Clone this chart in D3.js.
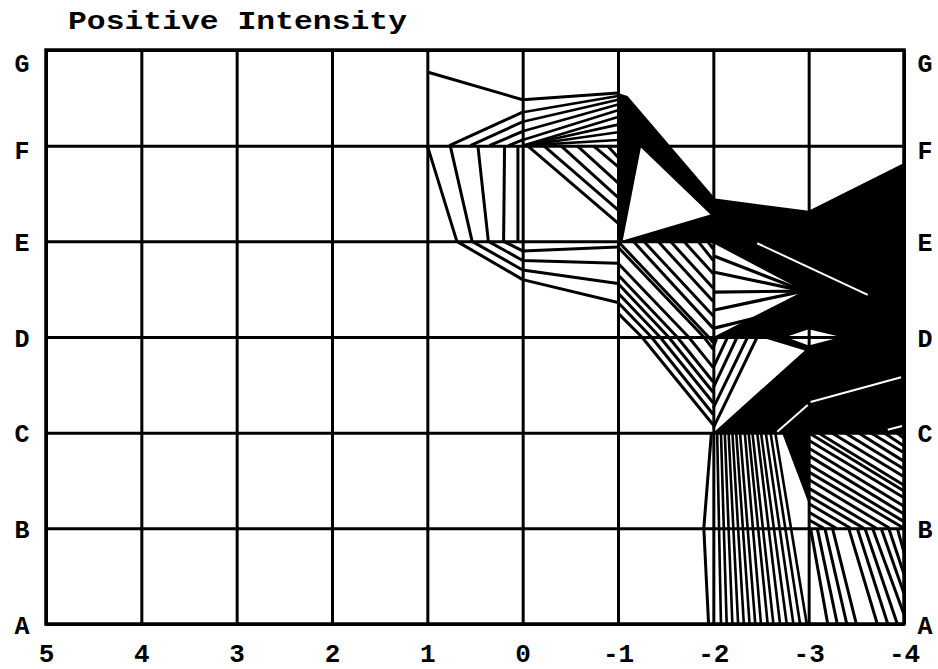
<!DOCTYPE html>
<html><head><meta charset="utf-8">
<script src="https://cdn.jsdelivr.net/npm/d3@7"></script>
<style>
html,body{margin:0;padding:0;background:#fff;}
svg{display:block;}
</style></head>
<body>
<svg id="chart" width="938" height="669"></svg>
<script>
// ---------- data ----------
const title = "Positive Intensity";
const xTicks = [5, 4, 3, 2, 1, 0, -1, -2, -3, -4];
const yCats = ["A", "B", "C", "D", "E", "F", "G"];
const yTicks = [0, 1, 2, 3, 4, 5, 6];

// trajectories (x value, category index A=0 ... G=6)
const topTrace = [[1, 5.77], [0, 5.48], [-1, 5.55]];
const upperFanLeft = [
  [[0.77, 5], [0, 5.35]], [[0.55, 5], [0, 5.25]], [[0.35, 5], [0, 5.15]], [[0.15, 5], [0, 5.06]]
];
const upperFanRight = [
  [[0, 5.35], [-1, 5.52]], [[0, 5.25], [-1, 5.48]], [[0, 5.15], [-1, 5.43]], [[0, 5.06], [-1, 5.37]],
  [[0, 5], [-1, 5.3]], [[0, 5], [-1, 5.22]], [[0, 5], [-1, 5.14]], [[0, 5], [-1, 5.06]]
];
const hatchFE = [
  [[-0.05, 5], [-1, 4.19]], [[-0.22, 5], [-1, 4.33]], [[-0.4, 5], [-1, 4.46]],
  [[-0.57, 5], [-1, 4.61]], [[-0.74, 5], [-1, 4.78]], [[-0.89, 5], [-1, 4.88]]
];
const lowerTraces = [
  [[1.0, 5.0], [0.69, 4.0], [0, 3.6], [-1, 3.36]],
  [[0.76, 5.0], [0.53, 4.0], [0, 3.7], [-1, 3.56]],
  [[0.47, 5.0], [0.36, 4.0], [0, 3.8], [-1, 3.77]],
  [[0.19, 5.0], [0.2, 4.0], [0, 3.9], [-1, 3.94]],
  [[0.05, 5.0], [0.05, 4.0]]
];
const hatchED = [
  [[-1.16, 4], [-2, 3.09]], [[-1.27, 4], [-2, 3.22]], [[-1.42, 4], [-2, 3.37]], [[-1.55, 4], [-2, 3.51]],
  [[-1.69, 4], [-2, 3.66]], [[-1.84, 4], [-2, 3.8]], [[-1.94, 4], [-2, 3.92]]
];
const hatchEDC = [
  [[-1, 4.0], [-1.95, 3.0], [-2, 2.94]],
  [[-1, 3.94], [-1.9, 3.0], [-2, 2.87]],
  [[-1, 3.77], [-1.74, 3.0], [-2, 2.68]],
  [[-1, 3.65], [-1.62, 3.0], [-2, 2.53]],
  [[-1, 3.56], [-1.53, 3.0], [-2, 2.42]],
  [[-1, 3.46], [-1.44, 3.0], [-2, 2.31]],
  [[-1, 3.36], [-1.35, 3.0], [-2, 2.19]],
  [[-1, 3.25], [-1.25, 3.0], [-2, 2.08]]
];
const chevronRight = [
  [[-2.04, 3.0], [-2, 2.89]], [[-2.15, 3.0], [-2, 2.68]], [[-2.25, 3.0], [-2, 2.47]],
  [[-2.36, 3.0], [-2, 2.26]], [[-2.46, 3.0], [-2, 2.05]]
];
const fanLines = [
  [[-2, 3.85], [-2.95, 3.48]], [[-2, 3.68], [-2.95, 3.48]], [[-2, 3.47], [-2.95, 3.48]],
  [[-2, 3.28], [-2.95, 3.48]], [[-2, 3.09], [-2.85, 3.3]]
];
const lowFanTop = [-2.04, -2.08, -2.12, -2.16, -2.2, -2.24, -2.28, -2.33, -2.37, -2.41, -2.46, -2.5, -2.55, -2.6, -2.65];
const lowFanBottom = [-2.08, -2.14, -2.2, -2.26, -2.32, -2.38, -2.44, -2.5, -2.57, -2.63, -2.7, -2.77, -2.84, -2.91, -2.98];
const lowFanEdge = [[-1.98, 2], [-1.9, 1], [-1.95, 0]];
const hatchCB = [
  [[-3, 1.92], [-4, 1.32]], [[-3, 1.84], [-4, 1.23]], [[-3, 1.76], [-4, 1.15]], [[-3, 1.67], [-4, 1.07]],
  [[-3, 1.59], [-4, 1.0]], [[-3, 1.51], [-3.85, 1]], [[-3, 1.42], [-3.71, 1]], [[-3, 1.34], [-3.58, 1]],
  [[-3, 1.26], [-3.44, 1]], [[-3, 1.17], [-3.29, 1]], [[-3, 1.09], [-3.16, 1]],
  [[-3, 2], [-4, 1.39]],
  [[-3.1, 2], [-4, 1.45]], [[-3.24, 2], [-4, 1.54]], [[-3.38, 2], [-4, 1.62]], [[-3.52, 2], [-4, 1.7]],
  [[-3.65, 2], [-4, 1.79]], [[-3.79, 2], [-4, 1.86]], [[-3.92, 2], [-4, 1.94]]
];
const hatchBA = [
  [[-3.02, 1], [-3.2, 0]], [[-3.09, 1], [-3.3, 0]], [[-3.17, 1], [-3.4, 0]], [[-3.25, 1], [-3.5, 0]],
  [[-3.42, 1], [-3.72, 0]], [[-3.51, 1], [-3.83, 0]], [[-3.59, 1], [-3.93, 0]], [[-3.67, 1], [-4, 0.1]],
  [[-3.76, 1], [-4, 0.32]], [[-3.84, 1], [-4, 0.52]], [[-3.93, 1], [-4, 0.75]]
];
// dense (solid) areas: outer ring followed by holes
const denseWedge = [
  [[-1, 5.55], [-1.1, 5.52], [-2, 4.47], [-2, 4.0], [-1, 4.0]],
  [[-1.24, 4.98], [-1.97, 4.28], [-1.05, 4.01]]
];
const denseMass = [
  [[-2, 4.45], [-3, 4.32], [-4, 4.82], [-4, 2.0], [-2, 2.0]],
  [[-2, 3.98], [-2.95, 3.48], [-2, 3.0]],
  [[-2, 3.0], [-2.49, 3.0], [-2.96, 2.86], [-2, 2.0]],
  [[-2.76, 3.0], [-3.0, 3.08], [-3.34, 3.0], [-3.0, 2.91]]
];
const denseLow = [
  [[-2.72, 2.0], [-3.0, 2.0], [-3.0, 1.26]]
];
const gapLines = [
  [[-2.46, 3.98], [-3.62, 3.44]], [[-3.02, 2.32], [-3.97, 2.58]],
  [[-2.67, 2.01], [-2.99, 2.29]], [[-3.83, 2.03], [-3.98, 2.07]]
];

// ---------- chart ----------
const svg = d3.select("#chart");
const L = 46, R = 904, T = 50, B = 624;
const x = d3.scaleLinear().domain([5, -4]).range([L, R]);
const y = d3.scaleLinear().domain([0, 6]).range([B, T]);
const line = d3.line().x(d => x(d[0])).y(d => y(d[1]));
const labelFont = "'Liberation Mono', 'Courier New', monospace";

// grid via axes
const gx = svg.append("g").attr("transform", `translate(0,${B})`)
  .call(d3.axisBottom(x).tickValues(xTicks).tickSize(-(B - T)).tickFormat(d => String(d)));
gx.select(".domain").remove();
gx.selectAll("line").attr("stroke", "#000").attr("stroke-width", 3);
gx.selectAll("text").attr("y", 0).attr("dy", 38)
  .attr("font-family", labelFont).attr("font-weight", "bold").attr("font-size", 26).attr("fill", "#000");

const gy = svg.append("g").attr("transform", `translate(${L},0)`)
  .call(d3.axisLeft(y).tickValues(yTicks).tickSize(-(R - L)).tickFormat(d => yCats[d]));
gy.select(".domain").remove();
gy.selectAll("line").attr("stroke", "#000").attr("stroke-width", 3);
gy.selectAll("text").attr("x", -24).attr("text-anchor", "middle").attr("dy", "0.36em")
  .attr("y", d => d === 6 ? 12 : (d === 5 ? 4 : 0))
  .attr("font-family", labelFont).attr("font-weight", "bold").attr("font-size", 25).attr("fill", "#000");

const gr = svg.append("g").attr("transform", `translate(${R},0)`)
  .call(d3.axisRight(y).tickValues(yTicks).tickSize(0).tickFormat(d => yCats[d]));
gr.select(".domain").remove();
gr.selectAll("text").attr("x", 21).attr("text-anchor", "middle").attr("dy", "0.36em")
  .attr("y", d => d === 6 ? 12 : (d === 5 ? 4 : 0))
  .attr("font-family", labelFont).attr("font-weight", "bold").attr("font-size", 25).attr("fill", "#000");

// dense areas
[denseWedge, denseMass, denseLow].forEach(rings => {
  svg.append("path")
    .attr("d", rings.map(r => line(r) + "Z").join(""))
    .attr("fill", "#000").attr("fill-rule", "evenodd");
});

// white gaps inside dense area
svg.append("g").selectAll("path").data(gapLines).join("path")
  .attr("d", line).attr("stroke", "#fff").attr("stroke-width", 2).attr("fill", "none");

// trajectories & hatch lines
function drawSet(set, w) {
  svg.append("g").selectAll("path").data(set).join("path")
    .attr("d", line).attr("fill", "none").attr("stroke", "#000")
    .attr("stroke-width", w).attr("stroke-linejoin", "round");
}
drawSet([topTrace], 3);
drawSet(upperFanLeft, 3);
drawSet(upperFanRight, 2.6);
drawSet(hatchFE, 3);
drawSet(lowerTraces, 3);
drawSet(hatchED, 3);
drawSet(hatchEDC, 3);
drawSet(chevronRight, 3);
drawSet(fanLines, 3.2);
drawSet(lowFanTop.map((t, i) => [[t, 2], [lowFanBottom[i], 0]]), 2.6);
drawSet([lowFanEdge], 3);
drawSet(hatchCB, 3);
drawSet(hatchBA, 3);

// frame
svg.append("rect").attr("x", L).attr("y", T).attr("width", R - L).attr("height", B - T)
  .attr("fill", "none").attr("stroke", "#000").attr("stroke-width", 3.5);

// title
svg.append("text").attr("x", 68).attr("y", 29).text(title)
  .attr("font-family", labelFont).attr("font-weight", "bold").attr("font-size", 26).attr("fill", "#000")
  .attr("textLength", 339).attr("lengthAdjust", "spacingAndGlyphs");
</script>
</body></html>
